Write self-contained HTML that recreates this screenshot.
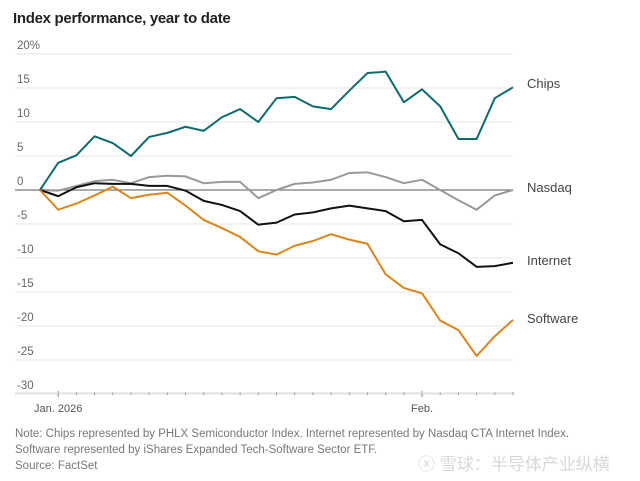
<!DOCTYPE html>
<html><head><meta charset="utf-8"><style>
body{margin:0;background:#fff;width:640px;height:481px;overflow:hidden;font-family:"Liberation Sans","Noto Sans CJK SC",sans-serif;}
svg{display:block}
</style></head><body>
<svg id="chart" width="640" height="481" xmlns="http://www.w3.org/2000/svg">
<text x="13" y="23" font-size="15" font-weight="bold" fill="#222" font-family="Liberation Sans, sans-serif" letter-spacing="-0.3">Index performance, year to date</text>
<g id="grid"></g><g id="series"></g><g id="xaxis"></g>
<text x="15" y="437" font-size="11.5" fill="#777">Note: Chips represented by PHLX Semiconductor Index. Internet represented by Nasdaq CTA Internet Index.</text>
<text x="15" y="453" font-size="11.5" fill="#777">Software represented by iShares Expanded Tech-Software Sector ETF.</text>
<text x="15" y="469" font-size="11.5" fill="#777">Source: FactSet</text>
<text x="418" y="470" font-size="17" fill="#d8d8d8" font-family="Liberation Sans, Noto Sans CJK SC, sans-serif">ⓧ 雪球：半导体产业纵横</text>
</svg>
<script>
const yTicks=[20,15,10,5,0,-5,-10,-15,-20,-25,-30];
const seriesNames=["Chips","Nasdaq","Internet","Software"];
const chips=[0,4.0,5.1,7.9,6.9,5.0,7.8,8.4,9.3,8.7,10.7,11.9,10.0,13.5,13.7,12.3,11.9,14.6,17.2,17.4,12.9,14.8,12.3,7.5,7.5,13.5,15.1];
const nasdaq=[0,-0.1,0.6,1.3,1.5,1.0,1.9,2.1,2.0,1.0,1.2,1.2,-1.2,0.0,0.9,1.1,1.5,2.5,2.6,1.9,1.0,1.5,0,-1.5,-2.9,-0.8,0];
const internet=[0,-0.9,0.4,1.0,0.9,0.9,0.6,0.6,-0.1,-1.6,-2.2,-3.1,-5.1,-4.8,-3.6,-3.3,-2.7,-2.3,-2.7,-3.1,-4.6,-4.4,-8.0,-9.3,-11.3,-11.2,-10.7];
const software=[0,-2.9,-2.0,-0.8,0.5,-1.2,-0.7,-0.4,-2.3,-4.4,-5.6,-6.9,-9.0,-9.5,-8.2,-7.5,-6.5,-7.3,-7.9,-12.4,-14.4,-15.2,-19.2,-20.6,-24.4,-21.5,-19.1];
const xLabels=[[1,"Jan. 2026"],[21,"Feb."]];
const NS="http://www.w3.org/2000/svg";
const y=v=>190-v*6.8;
const x=i=>40+i*(473/26);
function mk(t,a,p){const e=document.createElementNS(NS,t);for(const k in a)e.setAttribute(k,a[k]);p.appendChild(e);return e;}
const grid=document.getElementById('grid');
yTicks.forEach(v=>{
  const l=mk('line',{x1:15,x2:513,y1:y(v),y2:y(v),stroke:v===0?'#777':'#e6e6e6','stroke-width':v===0?1.3:1},grid);
  
  
  const t=mk('text',{x:17,y:y(v)-5,'font-size':11.5,fill:'#666'},grid);
  t.textContent=v===20?'20%':String(v);
  
  
});
const xa=document.getElementById('xaxis');
for(let i=1;i<chips.length;i++){
  const major=xLabels.some(d=>d[0]===i);
  const tk=mk('line',{x1:x(i),x2:x(i),y1:major?391:392,y2:major?397:395,stroke:'#888','stroke-width':1},xa);
  
  
}
const base=mk('line',{x1:15,x2:513,y1:393,y2:393,stroke:'#ddd','stroke-width':1},xa);


xLabels.forEach(d=>{
  const t=mk('text',{x:x(d[0]),y:412,'font-size':11,fill:'#555','text-anchor':'middle'},xa);
  t.textContent=d[1];
  
  
});
const sg=document.getElementById('series');
const data=[chips,nasdaq,internet,software];
const colors=['#0e6b6b','#999','#111','#d9861a'];
const labelY=[88,192,265,323];
data.forEach((arr,k)=>{
  const p=mk('polyline',{points:arr.map((v,i)=>x(i)+','+y(v)).join(' '),fill:'none',stroke:colors[k],'stroke-width':2,'stroke-linejoin':'round'},sg);
  
  
  const t=mk('text',{x:527,y:labelY[k],'font-size':13,fill:'#444'},sg);
  t.textContent=seriesNames[k];
  
  
});
</script>
</body></html>
